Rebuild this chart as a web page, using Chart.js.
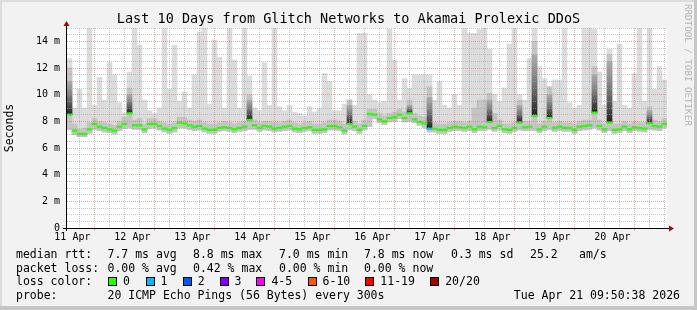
<!DOCTYPE html>
<html>
<head>
<meta charset="utf-8">
<script src="https://cdn.jsdelivr.net/npm/chart.js@4.4.1/dist/chart.umd.min.js"></script>
<style>
  html, body { margin: 0; padding: 0; background: #f2f2f2; }
  #wrap { position: relative; width: 697px; height: 310px; overflow: hidden; background: #f2f2f2; }
  #graph { position: absolute; left: 0; top: 0; }
  .t { position: absolute; font-family: 'DejaVu Sans Mono', monospace; font-size: 11.5px; line-height: 11.5px; color: #000; white-space: pre; }
  .box { position: absolute; width: 9px; height: 9px; box-sizing: border-box; border: 1px solid #000; }
  #credit { position: absolute; left: 683px; top: 4px; writing-mode: vertical-rl; font-family: 'DejaVu Sans Mono', monospace; font-size: 9.2px; line-height: 10px; color: #b4b4b4; white-space: pre; }
  .edge { position: absolute; }
</style>
</head>
<body>
<div id="wrap">
  <canvas id="graph" width="697" height="310"></canvas>
  <div id="credit">RRDTOOL / TOBI OETIKER</div>
  <div class="edge" style="left:0;top:0;width:697px;height:2px;background:#dcdcdc"></div>
  <div class="edge" style="left:0;top:0;width:2px;height:310px;background:#dcdcdc"></div>
  <div class="edge" style="left:694px;top:0;width:3px;height:310px;background:#c6c6c6"></div>
  <div class="edge" style="left:0;top:306px;width:697px;height:4px;background:#c6c6c6"></div>
</div>
<script>
// 10 days, one bin = 2 hours, first bin starts Apr 11 09:50:38
const title = 'Last 10 Days from Glitch Networks to Akamai Prolexic DDoS'
const dayLabels = ['11 Apr', '12 Apr', '13 Apr', '14 Apr', '15 Apr', '16 Apr', '17 Apr', '18 Apr', '19 Apr', '20 Apr']
const yLabels = ['0', '2 m', '4 m', '6 m', '8 m', '10 m', '12 m', '14 m']

// median rtt (ms)
const median = [
  8.5, 7.3, 7.05, 7.05, 7.4, 7.8, 7.6, 7.5, 7.4, 7.3,
  7.6, 7.8, 8.6, 7.7, 7.7, 7.4, 7.8, 7.8, 7.65, 7.45,
  7.35, 7.5, 7.9, 7.85, 7.7, 7.6, 7.65, 7.45, 7.35, 7.35,
  7.5, 7.55, 7.5, 7.4, 7.5, 7.6, 8.1, 7.7, 7.5, 7.65,
  7.6, 7.45, 7.5, 7.6, 7.65, 7.45, 7.4, 7.5, 7.55, 7.35,
  7.35, 7.4, 7.65, 7.65, 7.55, 7.3, 7.8, 7.6, 7.35, 7.65,
  8.55, 8.5, 8.15, 8.0, 8.25, 8.3, 8.5, 8.25, 8.6, 8.15,
  7.95, 7.85, 7.45, 7.45, 7.35, 7.35, 7.5, 7.6, 7.55, 7.5,
  7.6, 7.4, 7.6, 7.55, 7.95, 7.5, 7.65, 7.4, 7.35, 7.5,
  7.9, 7.55, 7.6, 8.4, 7.4, 7.6, 8.25, 7.5, 7.6, 7.5,
  7.5, 7.35, 7.6, 7.65, 7.7, 8.65, 7.65, 7.4, 7.9, 7.35,
  7.4, 7.6, 7.4, 7.55, 7.5, 7.45, 7.85, 7.65, 7.6, 7.8
]
// lost pings per bin (index into lossColors)
const loss = [
  0, 0, 0, 0, 0, 0, 0, 0, 0, 0,  0, 0, 0, 0, 0, 0, 0, 0, 0, 0,
  0, 0, 0, 0, 0, 0, 0, 0, 0, 0,  0, 0, 0, 0, 0, 0, 0, 0, 0, 0,
  0, 0, 0, 0, 0, 0, 0, 0, 0, 0,  0, 0, 0, 0, 0, 0, 0, 0, 0, 0,
  0, 0, 0, 0, 0, 0, 0, 0, 0, 0,  0, 0, 1, 0, 0, 0, 0, 0, 0, 0,
  0, 0, 0, 0, 0, 0, 0, 0, 0, 0,  0, 0, 0, 0, 0, 0, 0, 0, 0, 0,
  0, 0, 0, 0, 0, 0, 0, 0, 0, 0,  0, 0, 0, 0, 0, 0, 0, 0, 0, 0
]
// smoke: fastest ping, slowest ping, upper edge of the denser smoke, dark core top
const smokeLo = [
  7.4, 7.0, 6.85, 6.85, 7.1, 7.4, 7.3, 7.2, 7.15, 7.05,
  7.3, 7.45, 7.5, 7.4, 7.4, 7.15, 7.45, 7.5, 7.35, 7.2,
  7.1, 7.2, 7.5, 7.5, 7.4, 7.3, 7.35, 7.2, 7.1, 7.1,
  7.25, 7.3, 7.25, 7.15, 7.25, 7.3, 7.4, 7.4, 7.25, 7.35,
  7.3, 7.2, 7.25, 7.3, 7.35, 7.2, 7.15, 7.25, 7.3, 7.1,
  7.1, 7.15, 7.35, 7.35, 7.3, 7.05, 7.4, 7.3, 7.1, 7.35,
  7.6, 8.2, 7.9, 7.75, 7.95, 8.0, 8.2, 7.95, 8.0, 7.9,
  7.7, 7.55, 7.2, 7.2, 7.1, 7.1, 7.25, 7.3, 7.3, 7.25,
  7.3, 7.15, 7.3, 7.3, 7.4, 7.25, 7.35, 7.15, 7.1, 7.25,
  7.35, 7.3, 7.3, 7.3, 7.15, 7.3, 7.4, 7.25, 7.3, 7.25,
  7.25, 7.1, 7.3, 7.35, 7.4, 7.5, 7.35, 7.15, 7.3, 7.1,
  7.15, 7.3, 7.15, 7.3, 7.25, 7.2, 7.4, 7.35, 7.3, 7.5
]
const smokeHi = [
  12.7, 9.0, 10.4, 9.0, 15.5, 9.2, 11.3, 9.6, 12.4, 11.5,
  9.4, 8.6, 11.7, 15.5, 13.7, 9.6, 8.8, 8.6, 9.0, 15.5,
  10.4, 13.7, 9.5, 10.2, 9.0, 11.5, 14.7, 15.5, 9.3, 14.1,
  12.8, 9.0, 15.5, 12.6, 9.0, 15.5, 11.4, 9.0, 8.8, 12.4,
  9.2, 15.5, 9.1, 8.8, 9.2, 8.7, 8.6, 8.4, 9.1, 8.7,
  9.0, 11.6, 11.0, 8.8, 8.8, 9.3, 9.6, 9.2, 14.6, 14.6,
  10.0, 9.6, 9.4, 9.5, 14.9, 12.6, 9.6, 11.2, 10.5, 11.5,
  11.5, 11.5, 11.5, 9.6, 11.0, 9.2, 9.0, 10.0, 9.2, 15.5,
  14.6, 14.6, 14.9, 15.5, 13.4, 10.0, 9.5, 10.5, 13.8, 15.5,
  10.0, 9.6, 12.7, 15.5, 12.1, 11.2, 10.0, 11.1, 11.1, 15.5,
  9.4, 9.0, 9.2, 15.5, 15.0, 14.9, 11.7, 9.2, 13.4, 9.5,
  13.8, 9.2, 9.0, 11.6, 15.5, 9.5, 15.5, 10.4, 12.1, 11.1
]
const midHi = [
  12.0, 7.8, 7.4, 7.5, 7.9, 8.2, 8.0, 7.9, 7.8, 7.7,
  8.0, 8.3, 10.5, 8.1, 8.2, 7.8, 8.2, 8.2, 8.0, 7.9,
  7.8, 7.9, 8.3, 8.3, 8.1, 8.0, 8.1, 7.9, 7.8, 7.8,
  7.9, 8.0, 7.9, 7.8, 7.9, 8.0, 10.0, 8.1, 7.9, 8.0,
  8.0, 7.9, 7.9, 8.0, 8.1, 7.9, 7.8, 7.9, 8.0, 7.8,
  7.8, 7.9, 8.1, 8.1, 8.0, 7.8, 9.6, 8.0, 7.8, 8.1,
  8.9, 8.9, 8.6, 8.4, 8.6, 8.7, 8.9, 8.7, 9.6, 8.6,
  8.4, 8.3, 10.6, 7.9, 7.8, 7.8, 7.9, 8.0, 8.0, 7.9,
  8.0, 9.0, 9.6, 9.6, 10.1, 8.6, 8.1, 7.8, 7.8, 7.9,
  9.6, 8.0, 8.0, 14.0, 7.8, 8.0, 10.6, 7.9, 8.0, 7.9,
  7.9, 7.8, 8.0, 8.1, 8.1, 12.1, 8.1, 7.8, 13.0, 7.8,
  7.8, 8.0, 7.8, 8.0, 7.9, 7.9, 9.1, 8.1, 8.0, 8.2
]
const darkHi = [
  11.0, null, null, null, null, null, null, null, null, null,
  null, null, 10.0, null, null, null, null, null, null, null,
  null, null, null, null, null, null, null, null, null, null,
  null, null, null, null, null, null, 9.6, null, null, null,
  null, null, null, null, null, null, null, null, null, null,
  null, null, null, null, null, null, 9.2, null, null, null,
  null, null, null, null, null, null, null, null, 9.2, null,
  null, null, 9.8, null, null, null, null, null, null, null,
  null, null, null, null, 9.6, null, null, null, null, null,
  9.2, null, null, 13.0, null, null, 10.0, null, null, null,
  null, null, null, null, null, 11.5, null, null, 12.5, null,
  null, null, null, null, null, null, 8.8, null, null, null
]

const lossLabels = ['0', '1', '2', '3', '4-5', '6-10', '11-19', '20/20']
const lossColors = ['#26ff00', '#00b8ff', '#0059ff', '#7e00ff', '#ff00ff', '#ff5500', '#ff0000', '#a10000']
const rttStats = ['7.7 ms avg', '8.8 ms max', '7.0 ms min', '7.8 ms now', '0.3 ms sd', '25.2']
const lossStats = ['0.00 % avg', '0.42 % max', '0.00 % min', '0.00 % now']
const probeText = '20 ICMP Echo Pings (56 Bytes) every 300s'
const stampText = 'Tue Apr 21 09:50:38 2026'

const START = 9 + 50 / 60 + 38 / 3600   // hours after Apr 11 00:00
const SPAN = 240
const BIN = 2
const binTime = median.map((m, i) => START + BIN * i + BIN / 2)

function floating(lo, hi) {
  const out = []
  binTime.forEach((t, i) => {
    if (lo[i] != null && hi[i] != null) out.push({x: t, y: [lo[i], hi[i]]})
  })
  return out
}

const MAJOR = 'rgba(225,110,110,0.6)'
const MINOR = 'rgba(165,165,165,0.6)'
const FONT = 'DejaVu Sans Mono'

function darkFill(c) {
  const chart = c.chart
  if (!chart.chartArea || !c.raw || !c.raw.y) return '#555555'
  const y0 = chart.scales.y.getPixelForValue(c.raw.y[0])
  const y1 = chart.scales.y.getPixelForValue(c.raw.y[1])
  if (!isFinite(y0) || !isFinite(y1) || y0 === y1) return '#555555'
  const g = chart.ctx.createLinearGradient(0, y0, 0, y1)
  g.addColorStop(0, '#1e1e1e')
  g.addColorStop(1, 'rgba(150,150,150,0.55)')
  return g
}

const paintPlot = {
  id: 'paintPlot',
  beforeDraw(chart) {
    const {ctx, chartArea: a} = chart
    ctx.save()
    ctx.fillStyle = '#f2f2f2'
    ctx.fillRect(0, 0, chart.width, chart.height)
    ctx.fillStyle = '#ffffff'
    ctx.fillRect(a.left, a.top, a.right - a.left, a.bottom - a.top)
    ctx.restore()
  },
  afterDraw(chart) {
    const {ctx, chartArea: a} = chart
    const x0 = Math.round(a.left) - 1
    const y0 = Math.round(a.bottom)
    ctx.save()
    ctx.fillStyle = '#000000'
    ctx.fillRect(x0, a.top - 5, 1, y0 - a.top + 8)
    ctx.fillRect(x0 - 3, y0, a.right - x0 + 5, 1)
    ctx.fillStyle = '#9b0a0a'
    ctx.beginPath()
    ctx.moveTo(x0 - 2.5, a.top - 2)
    ctx.lineTo(x0 + 3.5, a.top - 2)
    ctx.lineTo(x0 + 0.5, a.top - 7)
    ctx.closePath()
    ctx.fill()
    ctx.beginPath()
    ctx.moveTo(a.right + 2, y0 - 2.5)
    ctx.lineTo(a.right + 2, y0 + 3.5)
    ctx.lineTo(a.right + 7, y0 + 0.5)
    ctx.closePath()
    ctx.fill()
    ctx.restore()
  }
}

new Chart(document.getElementById('graph'), {
  type: 'bar',
  data: {
    datasets: [
      {
        label: 'median',
        order: 0,
        data: binTime.map((t, i) => ({x: t, y: [median[i] - 0.06, median[i] + 0.06]})),
        backgroundColor: loss.map(l => lossColors[l])
      },
      {label: 'smoke core', order: 1, data: floating(median, darkHi), backgroundColor: darkFill},
      {label: 'smoke dense', order: 2, data: floating(smokeLo, midHi), backgroundColor: '#c4c4c4'},
      {label: 'smoke', order: 3, data: floating(smokeLo, smokeHi), backgroundColor: '#dcdcdc'}
    ]
  },
  options: {
    responsive: false,
    animation: false,
    datasets: {
      bar: {grouped: false, barPercentage: 1, categoryPercentage: 1, borderWidth: 0}
    },
    layout: {padding: {left: 0, right: 0, top: 0, bottom: 62}},
    plugins: {
      legend: {display: false},
      tooltip: {enabled: false},
      title: {
        display: true,
        text: title,
        color: '#000',
        font: {family: FONT, size: 13.5, weight: 'normal'},
        padding: {top: 11, bottom: 0.8}
      }
    },
    scales: {
      x: {
        type: 'linear',
        min: START,
        max: START + SPAN,
        offset: false,
        afterBuildTicks: s => {
          const ticks = []
          for (let h = Math.ceil(START / 6) * 6; h < START + SPAN; h += 6) ticks.push({value: h})
          s.ticks = ticks
        },
        afterFit: s => { s.height = 20 },
        grid: {
          z: 1,
          lineWidth: 1,
          color: c => c.tick && c.tick.value % 24 === 0 ? MAJOR : MINOR,
          drawTicks: true,
          tickLength: 3,
          tickColor: c => c.tick && c.tick.value % 24 === 0 ? MAJOR : 'rgba(0,0,0,0)'
        },
        border: {display: false, dash: [1, 1]},
        ticks: {
          autoSkip: false,
          maxRotation: 0,
          padding: 0,
          color: '#000',
          font: {family: FONT, size: 10},
          callback: v => v % 24 === 12 ? dayLabels[Math.floor(v / 24)] : ''
        }
      },
      y: {
        min: 0,
        max: 15,
        afterBuildTicks: s => {
          const ticks = []
          for (let v = 0; v <= 15; v += 0.5) ticks.push({value: v})
          s.ticks = ticks
        },
        afterFit: s => { s.width = 67 },
        grid: {
          z: 1,
          lineWidth: 1,
          drawTicks: false,
          color: c => c.tick && c.tick.value % 2 === 0 ? MAJOR : MINOR
        },
        border: {display: false, dash: [1, 1]},
        ticks: {
          autoSkip: false,
          padding: 7,
          color: '#000',
          font: {family: FONT, size: 10},
          callback: v => v % 2 === 0 ? yLabels[v / 2] : ''
        },
        title: {
          display: true,
          text: 'Seconds',
          color: '#000',
          font: {family: FONT, size: 11.5},
          padding: {top: 3, bottom: 0}
        }
      },
      y2: {
        position: 'right',
        min: 0,
        max: 15,
        afterFit: s => { s.width = 30 },
        grid: {display: false},
        border: {display: false},
        ticks: {display: false}
      }
    }
  },
  plugins: [paintPlot]
})

// legend block below the graph
const wrap = document.getElementById('wrap')
function put(text, x, baseline, right) {
  const el = document.createElement('div')
  el.className = 't'
  el.textContent = text
  el.style.top = (baseline - 9.7) + 'px'
  if (right) el.style.right = (697 - x) + 'px'
  else el.style.left = x + 'px'
  wrap.appendChild(el)
}

const rowBase = [259, 272.5, 286, 299.5]
const colX = [107.5, 193, 279, 364, 451, 530]

put('median rtt:', 16, rowBase[0])
rttStats.forEach((s, i) => put(s, colX[i], rowBase[0]))
put('am/s', 579, rowBase[0])

put('packet loss:', 16, rowBase[1])
lossStats.forEach((s, i) => put(s, colX[i], rowBase[1]))

put('loss color:', 16, rowBase[2])
const boxX = [108, 145.5, 182.7, 219.6, 256.4, 307.6, 365.3, 430.2]
lossLabels.forEach((s, i) => {
  const b = document.createElement('div')
  b.className = 'box'
  b.style.left = boxX[i] + 'px'
  b.style.top = (rowBase[2] - 9) + 'px'
  b.style.background = lossColors[i]
  wrap.appendChild(b)
  put(s, boxX[i] + 15, rowBase[2])
})

put('probe:', 16, rowBase[3])
put(probeText, 107.5, rowBase[3])
put(stampText, 680, rowBase[3], true)
</script>
</body>
</html>
